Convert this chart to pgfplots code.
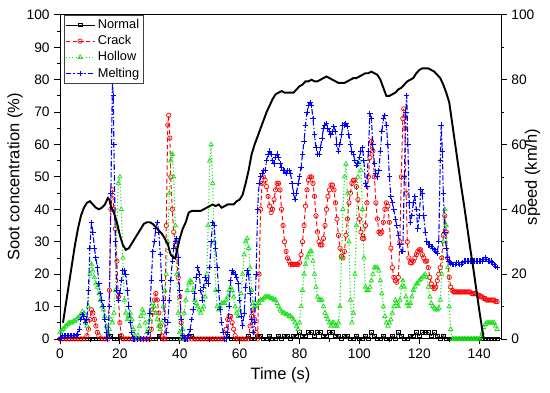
\documentclass[border=0pt]{standalone}
\usepackage{fontspec}
\setmainfont{Liberation Sans}
\usepackage{pgfplots}
\pgfplotsset{compat=1.18}
\definecolor{hgreen}{RGB}{20,225,20}
\definecolor{mred}{RGB}{250,0,0}
\definecolor{mblue}{RGB}{0,0,255}
\begin{document}
\begin{tikzpicture}
\pgfplotsset{
  myax/.style={
    scale only axis, width=320.7pt, height=235.6pt,
    xmin=0, xmax=147.3, ymin=0, ymax=100,
    tick align=outside, clip mode=individual,
    major tick length=4pt, minor tick length=2.4pt,
    every tick/.style={black, line width=0.6pt},
    axis line style={line width=0.7pt},
    label style={font=\fontsize{12}{14}\selectfont},
    tick label style={font=\fontsize{10}{12}\selectfont},
    /pgf/number format/assume math mode=true,
  }
}
\begin{axis}[myax,
  xtick={0,20,...,140}, minor xtick={10,30,...,130},
  ytick={0,10,...,100}, minor ytick={5,15,...,95},
  xtick pos=left, ytick pos=left,
  xlabel={Time (s)}, ylabel={Soot concentration (\%)},
  xlabel style={at={(axis description cs:0.5,-0.111)}, anchor=center},
  ylabel style={at={(axis description cs:-0.102,0.5)}, anchor=center},
  legend style={at={(0.008,1)}, anchor=north west, font=\fontsize{9.3}{10}\selectfont,
    draw=black!75, line width=0.4pt, inner sep=1pt, row sep=-0.5pt, cells={anchor=west}},
  every axis plot/.append style={legend image code/.code={\draw[mark repeat=2,mark phase=2] plot coordinates {(0pt,0pt) (10.5pt,0pt) (21pt,0pt)};}},
]
% Normal
\addplot[black, line width=0.5pt, mark=square, mark size=1.3pt, mark options={solid}] coordinates {
(0,0)(1,0)(2,0)(3,0)(4,0)(5,0)(6,0)(7,0)(8,0)(9,0)(10,0)(11,0)(12,0)(13,0)(14,0)(15,0)(16,1)(17,1)(18,0)(19,0)(20,1)(21,0)(22,0)(23,0)(24,0)(25,0)(26,0)(27,0)(28,0)(29,0)(30,0)(31,0)(32,0)(33,1)(34,0)(35,0)(36,0)(37,0)(38,0)(39,0)(40,0)(41,0)(42,0)(43,1)(44,1)(45,0)(46,0)(47,0)(48,0)(49,0)(50,0)(51,0)(52,0)(53,0)(54,0)(55,0)(56,1)(57,0)(58,0)(59,0)(60,0)(61,0)(62,0)(63,1)(64,0)(65,0)(66,1)(67,1)(68,0)(69,0)(70,1)(71,0)(72,0)(73,1)(74,0)(75,1)(76,1)(77,0)(78,1)(79,1)(80,2)(81,1)(82,1)(83,2)(84,2)(85,1)(86,2)(87,2)(88,1)(89,1)(90,2)(91,2)(92,1)(93,1)(94,0)(95,1)(96,1)(97,0)(98,0)(99,1)(100,0)(101,0)(102,1)(103,0)(104,2)(105,1)(106,0)(107,0)(108,1)(109,0)(110,0)(111,1)(112,0)(113,2)(114,1)(115,0)(116,0)(117,1)(118,1)(119,2)(120,1)(121,2)(122,2)(123,2)(124,1)(125,2)(126,1)(127,0)(128,1)(129,0)(130,0)(131,0)(132,0)(133,0)(134,0)(135,0)(136,0)(137,0)(138,0)(139,0)(140,0)(141,0)(142,0)(143,0)(144,0)(145,0)(146,0)
};
\addlegendentry{Normal}
% Crack
\addplot[mred, line width=0.7pt, dash pattern=on 3pt off 2pt, mark=o, mark size=1.6pt, mark options={solid, mred, line width=0.5pt}] coordinates {
(0,0)(1,0)(2,0)(3,0)(4,0)(5,0)(6,0)(7,0)(8,0)(9,1)(9.5,3)(10,6)(10.5,9)(11,8)(11.5,6)(12,4)(12.5,2)(13,1)(14,0)(15,0)(16,0)(16.5,15)(17,40)(17.5,46)(18,40)(18.5,34)(19,24)(19.5,13)(20,5)(20.5,1)(21,0)(22,0)(23,0)(24,0)(25,0)(26,0)(27,0)(28,0)(29,0)(30,0)(30.5,3)(31,8)(31.5,12)(32,14)(32.5,12)(33,8)(33.5,4)(34,1)(34.5,0)(35,0)(35.5,35)(36,66)(36.3,69)(36.7,62)(37,50)(37.5,40)(38,33)(38.5,29)(39,25)(39.5,19)(40,13)(40.5,5)(41,1)(41.5,0)(42,0)(43,0)(44,0)(45,0)(46,0)(47,0)(48,0)(49,0)(50,0)(51,0)(52,0)(53,0)(54,0)(55,0)(55.5,3)(56,6)(56.5,7)(57,7)(57.5,5)(58,3)(58.5,1)(59,0)(60,0)(61,0)(62,0)(63,0)(63.5,4)(64,7)(64.5,9)(65,6)(65.5,2)(66,0)(66.5,20)(67,40)(67.5,48)(68,50)(68.5,49)(69,47)(69.5,44)(70,41)(70.5,39)(71,40)(71.5,43)(72,46)(72.5,48)(73,48)(73.5,46)(74,40)(74.5,35)(75,30)(75.5,27)(76,25)(76.5,24)(77,23)(77.5,23)(78,23)(78.5,23)(79,23)(79.5,23)(80,23.5)(80.5,26)(81,30)(81.5,35)(82,41)(82.5,46)(83,49)(83.5,50)(84,50)(84.5,48)(85,44)(85.5,38)(86,33)(86.5,30)(87,29)(87.5,29)(88,31)(88.5,35)(89,40)(89.5,44)(90,46)(90.5,47.5)(91,47.5)(91.5,46)(92,42)(92.5,37)(93,32)(93.5,28)(94,25.5)(94.5,25)(95,27)(95.5,32)(96,37)(96.5,42)(97,45)(97.5,48)(98,49)(98.5,49)(99,47)(99.5,43)(100,37)(100.5,33)(101,31)(101.5,31)(102,35)(102.5,42)(103,50)(103.5,56)(104,61)(104.5,58)(105,50)(105.5,42)(106,37)(106.5,33)(107,32.5)(107.5,33)(108,36)(108.5,40)(109,42)(109.5,41)(110,36)(110.5,28)(111,22)(111.5,19)(112,18)(112.5,17.5)(113,19)(113.5,30)(114,50)(114.5,68)(114.8,71)(115.2,65)(115.6,45)(116,30)(116.5,25)(117,23.5)(117.5,23.5)(118,24)(118.5,25)(119,26)(119.5,27)(120,27.5)(120.5,27.5)(121,26)(121.5,25)(122,24)(122.5,24)(123,22)(123.5,19)(124,17)(124.5,16)(125,15.5)(125.5,16)(126,18)(126.5,20)(127,22)(127.5,25)(128,32)(128.5,38)(129,33)(129.5,25)(130,19)(130.5,16)(131,15)(131.5,14.5)(132,14.5)(132.5,14.5)(133,14.5)(133.5,14.5)(134,14.5)(134.5,14.5)(135,14.5)(135.5,14.5)(136,14.5)(136.5,14.5)(137,14.5)(137.5,14)(138,14)(138.5,14)(139,14)(139.5,13.5)(140,13.5)(140.5,13)(141,13)(141.5,12.5)(142,12.5)(142.5,12)(143,12)(143.5,12)(144,12)(144.5,12)(145,12)(145.5,11.5)(146,11.5)
};
\addlegendentry{Crack}
% Hollow
\addplot[hgreen, line width=0.8pt, dash pattern=on 0.8pt off 1.6pt, mark=triangle, mark size=1.8pt, mark options={solid, hgreen, line width=0.5pt}] coordinates {
(0,2)(0.5,2.5)(1,3)(1.5,3.5)(2,4)(2.5,4.5)(3,5)(3.5,5)(4,5)(4.5,5.5)(5,5.5)(5.5,6)(6,6.5)(6.5,7)(7,7.5)(7.5,8.5)(8,8)(8.5,5)(9,4)(9.5,10)(10,20)(10.5,23)(11,21)(11.5,19)(12,17)(12.5,16)(13,14)(13.5,12)(14,10)(14.5,9)(15,7)(15.5,4)(16,2)(16.5,3)(17,6)(17.5,5)(18,8)(18.5,15)(19,35)(19.5,48)(20,50)(20.5,40)(21,25)(21.5,12)(22,8)(22.5,6)(23,7)(23.5,8)(24,6)(24.5,3)(25,1)(25.5,0)(26,1)(26.5,4)(27,7)(27.5,9)(28,8)(28.5,5)(29,2)(29.5,3)(30,6)(30.5,9)(31,11)(31.5,10)(32,8)(32.5,6)(33,4)(33.5,3)(34,5)(34.5,10)(35,15)(35.5,20)(36,30)(36.5,45)(37,55)(37.5,57)(38,50)(38.5,35)(39,20)(39.5,8)(40,2)(40.5,0)(41,3)(41.5,8)(42,12)(42.5,15)(43,17)(43.5,18)(44,17.5)(44.5,15)(45,12)(45.5,11)(46,10)(46.5,9)(47,8)(47.5,9)(48,10)(48.5,13)(49,20)(49.5,35)(50,55)(50.5,60)(51,48)(51.5,30)(52,15)(52.5,10)(53,9)(53.5,10)(54,11)(54.5,11)(55,11)(55.5,12)(56,13)(56.5,15)(57,16)(57.5,15)(58,13)(58.5,10)(59,8)(59.5,7)(60,9)(60.5,14)(61,20)(61.5,26)(62,30)(62.5,31)(63,28)(63.5,22)(64,15)(64.5,11)(65,10)(65.5,10)(66,11)(66.5,11)(67,12)(67.5,12)(68,12.5)(68.5,13)(69,13)(69.5,13)(70,13)(70.5,12.5)(71,12.5)(71.5,12)(72,12)(72.5,11)(73,10)(73.5,9)(74,8.5)(74.5,8)(75,8)(75.5,7.5)(76,7.5)(76.5,7)(77,7)(77.5,6.5)(78,6)(78.5,5)(79,4)(79.5,3)(80,5)(80.5,10)(81,15)(81.5,20)(82,23)(82.5,25)(83,26)(83.5,27)(84,27)(84.5,24)(85,20)(85.5,16)(86,13)(86.5,12)(87,12)(87.5,12)(88,10)(88.5,8)(89,7)(89.5,6)(90,5)(90.5,4)(91,5)(91.5,5)(92,4)(92.5,4)(93,5)(93.5,10)(94,25)(94.5,40)(95,50)(95.5,54)(96,45)(96.5,30)(97,12)(97.5,5)(98,8)(98.5,20)(99,35)(99.5,50)(100,55)(100.5,52)(101,40)(101.5,25)(102,16)(102.5,15)(103,15)(103.5,16)(104,18)(104.5,20)(105,22)(105.5,22)(106,22)(106.5,21)(107,18)(107.5,14)(108,10)(108.5,7)(109,5)(109.5,4)(110,5)(110.5,6)(111,8)(111.5,10)(112,12)(112.5,11)(113,10)(113.5,12)(114,16)(114.5,18)(115,16)(115.5,13)(116,11)(116.5,10)(117,11)(117.5,13)(118,15)(118.5,16)(119,17)(119.5,17)(120,18)(120.5,18.5)(121,19)(121.5,19.5)(122,20)(122.5,19)(123,16)(123.5,13)(124,11)(124.5,10)(125,9.5)(125.5,9)(126,9)(126.5,9.5)(127,12)(127.5,20)(128,30)(128.5,40)(129,35)(129.5,22)(130,10)(130.5,3)(131,0)(131.5,0)(132,0)(132.5,0)(133,0)(133.5,0)(134,0)(134.5,0)(135,0)(135.5,0)(136,0)(136.5,0)(137,0)(137.5,0)(138,0)(138.5,0)(139,0)(139.5,0)(140,0)(140.5,0.5)(141,2)(141.5,3.5)(142,4.5)(142.5,5)(143,5)(143.5,5)(144,5)(144.5,5)(145,5)(145.5,4)(146,3)
};
\addlegendentry{Hollow}
% Melting
\addplot[mblue, line width=0.8pt, dash pattern=on 4pt off 1.5pt on 1pt off 1.5pt, mark=+, mark size=2pt, mark options={solid, mblue, line width=0.7pt}] coordinates {
(0,0)(0.5,0.5)(1,1)(1.5,1)(2,1)(2.5,1)(3,1)(3.5,1)(4,1)(4.5,1)(5,1)(5.5,1)(6,1.5)(6.5,3)(7,6)(7.5,7.5)(8,7)(8.5,5)(9,6)(9.5,15)(10,28)(10.5,36)(11,33)(11.5,28)(12,25)(12.5,22)(13,17)(13.5,14)(14,12)(14.5,10)(15,6)(15.5,2)(16,0)(16.5,10)(17,45)(17.5,79)(17.8,75)(18,60)(18.5,30)(19,15)(19.5,12)(20,14)(20.5,18)(21,21)(21.5,21)(22,20)(22.5,15)(23,10)(23.5,5)(24,2)(24.5,0)(25,0)(26,0)(27,0)(28,0)(29,0)(29.5,2)(30,8)(30.5,18)(31,27)(31.5,30)(32,34)(32.5,36)(33,33)(33.5,26)(34,18)(34.5,12)(35,6)(35.5,2)(36,5)(36.5,12)(37,18)(37.5,24)(38,28)(38.5,30)(39,31)(39.5,25)(40,15)(40.5,6)(41,1)(41.5,0)(42,0)(42.5,0)(43,1)(43.5,3)(44,6)(44.5,9)(45,14)(45.5,19)(46,22)(46.5,20)(47,15)(47.5,12)(48,16)(48.5,19)(49,18)(49.5,17)(50,22)(50.5,30)(51,36)(51.5,35)(52,28)(52.5,22)(53,15)(53.5,9)(54,5)(54.5,2)(55,0)(55.5,0)(56,2)(56.5,10)(57,18)(57.5,21)(58,20.5)(58.5,20)(59,19)(59.5,17)(60,12)(60.5,7)(61,4)(61.5,8)(62,16)(62.5,21)(63,20)(63.5,14)(64,6)(64.5,2)(65,5)(65.5,20)(66,40)(66.5,48)(67,50)(67.5,51)(68,52)(68.5,52)(69,55)(69.5,57)(70,58)(70.5,57)(71,55)(71.5,54)(72,56)(72.5,57)(73,56)(73.5,54)(74,53)(74.5,52)(75,52)(75.5,51)(76,52)(76.5,52)(77,51)(77.5,48)(78,45)(78.5,43)(79,45)(79.5,48)(80,50)(80.5,53)(81,57)(81.5,61)(82,66)(82.5,70)(83,72)(83.5,73)(84,72)(84.5,68)(85,63)(85.5,59)(86,57)(86.5,57)(87,59)(87.5,62)(88,65)(88.5,66)(89,66.5)(89.5,65)(90,64)(90.5,63)(91,64)(91.5,65.5)(92,64)(92.5,60)(93,58)(93.5,60)(94,63)(94.5,66)(95,66)(95.5,66.5)(96,65.5)(96.5,63)(97,60)(97.5,58)(98,57)(98.5,55)(99,53.5)(99.5,54)(100,56)(100.5,58)(101,59)(101.5,55)(102,48)(102.5,47)(103,58)(103.5,69.5)(104,68)(104.5,60)(105,54)(105.5,51)(106,50)(106.5,52)(107,58)(107.5,64)(108,68)(108.5,69)(109,66)(109.5,60)(110,50)(110.5,44)(111,42)(111.5,40)(112,37)(112.5,35)(113,32)(113.5,29)(114,27)(114.5,27)(115,50)(115.5,70)(115.8,75)(116.2,60)(116.6,42)(117,36)(117.5,38)(118,42)(118.5,44)(119,40)(119.5,34)(120,38)(120.5,46)(121,45)(121.5,38)(122,33)(122.5,30)(123,29)(123.5,29)(124,28.5)(124.5,28)(125,27.5)(125.5,27)(126,26.5)(126.5,30)(127,55)(127.3,66)(127.7,58)(128,45)(128.5,33)(129,28)(129.5,25)(130,24)(130.5,23.5)(131,23)(131.5,23)(132,23)(132.5,23.5)(133,23.5)(133.5,23)(134,23)(134.5,23.5)(135,24)(135.5,24)(136,24)(136.5,24)(137,24)(137.5,24)(138,24)(138.5,24)(139,24)(139.5,24)(140,24)(140.5,24)(141,24)(141.5,24.5)(142,25)(142.5,24.5)(143,24)(143.5,24)(144,24)(144.5,23.5)(145,23)(145.5,22.5)(146,22)
};
\addlegendentry{Melting}
\end{axis}
\begin{axis}[myax,
  axis x line=none, axis y line*=right,
  ytick={0,20,...,100}, minor ytick={10,30,...,90},
  ylabel={speed (km/h)},
  ylabel style={at={(axis description cs:1.0714,0.5)}, anchor=center},
]
\addplot[black, line width=1.4pt] coordinates {
(1,5)(2,11)(3,17)(4,23)(5,29)(6,34)(7,38)(8,40.5)(9,42)(10,42.5)(11,41.5)(12,40.5)(13,40)(14,40.5)(15,41.5)(16,43.5)(16.5,43)(17,41)(18,39)(19,36)(20,32)(21,29)(22,27.5)(23,28)(24,29.5)(25,31)(26,32.5)(27,34)(28,35.5)(29,36)(30,36)(31,35.5)(32,34.5)(33,33.5)(34,32.5)(35,31)(35.5,30)(36,29.5)(36.5,27.5)(37,26)(38,25)(38.5,25)(39,27)(40,31)(41,34)(42,36)(43,39)(44,39.5)(45,39.5)(46,39.5)(47,39.5)(48,40)(49,40.5)(50,41)(51,41.5)(52,41)(53,41.5)(54,40.5)(55,41)(56,41.5)(57,41.5)(58,41.5)(59,42.5)(60,43)(61,44.5)(62,48)(63,52)(64,57)(65,60)(66,62.5)(67,65)(68,67.5)(69,70)(70,72)(71,74)(72,75.5)(73,76)(74,76.5)(75,76)(76,76)(77,76)(78,76)(79,77)(80,78)(81,78.5)(82,79.5)(83,79.5)(84,80)(85,79.5)(86,79.5)(87,80)(88,80.5)(89,81)(90,80.5)(91,80)(92,79.5)(93,79)(94,79)(95,79)(96,79.5)(97,80)(98,80.5)(99,80.5)(100,81)(101,81.5)(102,82)(103,82)(104,82.5)(105,82)(106,81.5)(107,80)(108,77.5)(109,75)(110,75)(111,75.5)(112,76)(113,77)(114,77.5)(115,78.5)(116,79.5)(117,80)(118,80.5)(119,82)(120,83)(121,83.5)(122,83.5)(123,83.5)(124,83)(125,82.5)(126,81.5)(127,80.5)(128,78.5)(129,76)(130,73)(131,66.5)(132,60)(133,53.5)(134,47)(135,41)(136,34.5)(137,28)(138,22)(139,15.5)(140,9)(141,3)(141.5,0)
};
\path (rel axis cs:-0.136,-0.164) (rel axis cs:1.111,1.046);
\end{axis}
\end{tikzpicture}
\end{document}
